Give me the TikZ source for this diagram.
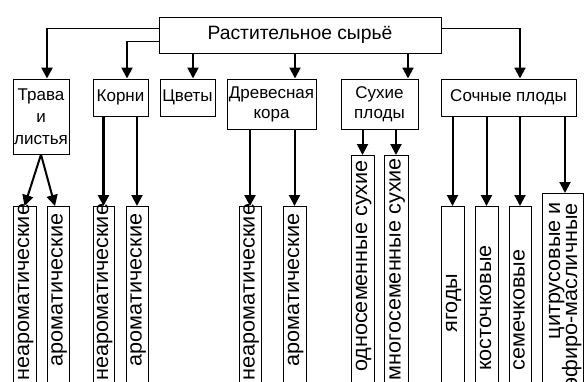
\documentclass[tikz,border=0pt]{standalone}
\usepackage{fontspec}
\setmainfont{Liberation Sans}
\usetikzlibrary{arrows.meta,calc}
\newcommand{\vstr}[1]{\scalebox{1.03}[1]{#1}}
\begin{document}
\begin{tikzpicture}[x=1pt,y=-1pt,font=\fontsize{17}{20}\selectfont,
  box/.style={draw,line width=1pt,inner sep=0pt,align=center},
  leaf/.style={draw,line width=1pt,inner sep=0pt,anchor=north,minimum height=260pt},
  vtext/.style={rotate=90,inner sep=0pt,anchor=base,font=\fontsize{21}{18}\selectfont},
  arr/.style={line width=2pt,-{Triangle[width=11pt,length=11pt]}},
  hline/.style={line width=1pt}]
\useasboundingbox (0,0) rectangle (584,381);
% top
\node[box,minimum width=282pt,minimum height=36pt,font=\fontsize{19.3}{20}\selectfont] (top) at (300,35) {Растительное сырьё};
% level 2
\node[box,minimum width=56pt,minimum height=75pt,font=\fontsize{17}{22}\selectfont] (trava) at (41,116.5) {Трава\\и\\листья};
\node[box,minimum width=55pt,minimum height=37pt] (korni) at (120.5,97.5) {Корни};
\node[box,minimum width=55pt,minimum height=37pt] (cvety) at (187.5,97.5) {Цветы};
\node[box,minimum width=89pt,minimum height=50pt] (drev) at (271.5,104) {Древесная\\кора};
\node[box,minimum width=77pt,minimum height=50pt] (suhie) at (379.5,104) {Сухие\\плоды};
\node[box,minimum width=135pt,minimum height=37pt] (sochn) at (508.5,97.5) {Сочные плоды};
% level 3 boxes
\node[leaf,minimum width=23pt] (tn) at (24.5,206) {};
\node[leaf,minimum width=22pt] (ta) at (58,206) {};
\node[leaf,minimum width=21pt] (kn) at (103.5,206) {};
\node[leaf,minimum width=22pt] (ka) at (137,206) {};
\node[leaf,minimum width=22pt] (dn) at (250,206) {};
\node[leaf,minimum width=23pt] (da) at (294.5,206) {};
\node[leaf,minimum width=23pt] (s1) at (362.5,155) {};
\node[leaf,minimum width=24pt] (s2) at (396,155) {};
\node[leaf,minimum width=23pt] (y1) at (452.5,206) {};
\node[leaf,minimum width=23pt] (y2) at (486.5,206) {};
\node[leaf,minimum width=22pt] (y3) at (520,206) {};
\node[leaf,minimum width=41pt] (y4) at (563,193) {};
% vertical texts (anchor = baseline centre)
\node[vtext] (tnt) at ([xshift=4.5pt]tn.north |- 0,292) {\vstr{неароматические}};
\node[vtext] (tat) at ([xshift=4.5pt]ta.north |- 0,290) {\vstr{ароматические}};
\node[vtext] (knt) at ([xshift=4.5pt]kn.north |- 0,292) {\vstr{неароматические}};
\node[vtext] (kat) at ([xshift=4.5pt]ka.north |- 0,290) {\vstr{ароматические}};
\node[vtext] (dnt) at ([xshift=4.5pt]dn.north |- 0,292) {\vstr{неароматические}};
\node[vtext] (dat) at ([xshift=4.5pt]da.north |- 0,290) {\vstr{ароматические}};
\node[vtext] (s1t) at ([xshift=4.5pt]s1.north |- 0,266) {\vstr{односеменные сухие}};
\node[vtext] (s2t) at ([xshift=4.5pt]s2.north |- 0,269) {\vstr{многосеменные сухие}};
\node[vtext] (y1t) at ([xshift=4.5pt]y1.north |- 0,303) {\vstr{ягоды}};
\node[vtext] (y2t) at ([xshift=4.5pt]y2.north |- 0,308) {\vstr{косточковые}};
\node[vtext] (y3t) at ([xshift=4.5pt]y3.north |- 0,310) {\vstr{семечковые}};
\node[vtext,anchor=base east] (y4a) at (560,202) {\vstr{цитрусовые и}};
\node[vtext,anchor=base east] (y4b) at (577,203) {\vstr{эфиро-масличные}};
% connectors from top
\coordinate (c1) at (47,28);
\draw[hline] (top.west |- c1) -- (c1);
\draw[arr,line width=2.6pt] (c1) -- (c1 |- trava.north);
\coordinate (c2) at (127,41);
\draw[hline] (top.west |- c2) -- (c2);
\draw[arr] (c2) -- (c2 |- korni.north);
\coordinate (c3) at (193,0);
\draw[arr] (top.south -| c3) -- (cvety.north -| c3);
\coordinate (c4) at (295,0);
\draw[arr] (top.south -| c4) -- (drev.north -| c4);
\coordinate (c5) at (408,0);
\draw[arr] (top.south -| c5) -- (suhie.north -| c5);
\coordinate (c6) at (520,28);
\draw[hline] (top.east |- c6) -- (c6);
\draw[arr] (c6) -- (c6 |- sochn.north);
% level 2 -> 3
\draw[arr] (trava.south) -- (tn.north);
\draw[arr] (trava.south) -- ([xshift=-3pt]ta.north);
\draw[arr,line width=2.6pt] (korni.south -| kn.north) -- (kn.north);
\draw[arr] (korni.south -| ka.north) -- (ka.north);
\draw[arr,line width=2.6pt] (drev.south -| dn.north) -- (dn.north);
\draw[arr] (drev.south -| da.north) -- (da.north);
\draw[arr] (suhie.south -| s1.north) -- (s1.north);
\draw[arr] (suhie.south -| s2.north) -- (s2.north);
\draw[arr] (sochn.south -| y1.north) -- (y1.north);
\draw[arr] (sochn.south -| y2.north) -- (y2.north);
\draw[arr] (sochn.south -| y3.north) -- (y3.north);
\coordinate (c7) at (565,0);
\draw[arr] (sochn.south -| c7) -- (y4.north -| c7);
\end{tikzpicture}
\end{document}
